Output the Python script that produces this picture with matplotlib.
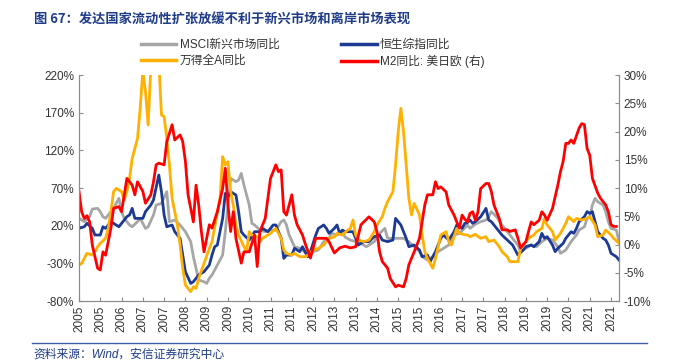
import matplotlib
matplotlib.use("Agg")
import matplotlib.pyplot as plt
from matplotlib.lines import Line2D

plt.rcParams['font.family'] = ['Liberation Sans', 'Noto Sans CJK SC', 'DejaVu Sans']

# x = months since 2005-01 (0 = Jan 2005)
msci_m = [0, 1, 2, 4, 5, 7, 8, 9, 10, 12, 13, 15, 16, 17, 19, 20, 22, 23, 25, 26, 28, 29, 31, 33, 34,
          36, 38, 40, 42, 43, 44, 45, 47, 48, 49, 50, 52, 54, 55, 56, 57, 59, 60, 61, 62, 64, 65, 66,
          68, 70, 72, 74, 76, 77, 78, 79, 81, 83, 84, 86, 88, 90, 92, 94, 95, 97, 99, 100, 102, 104,
          106, 108, 109, 111, 113, 115, 116, 118, 120, 122, 124, 126, 128, 129, 131, 133, 135, 137,
          139, 141, 143, 145, 146, 147, 149, 151, 153, 154, 155, 157, 159, 161, 163, 165, 166, 168,
          170, 172, 174, 176, 178, 180, 181, 183, 185, 187, 188, 190, 191, 192, 193, 194, 195, 197,
          198, 199, 200, 202, 203]
msci_v = [29.7, 27.5, 25.3, 31.9, 42.1, 43.0, 38.6, 31.9, 29.7, 38.6, 43.0, 56.3, 38.6, 29.7, 20.9,
          18.6, 25.3, 29.7, 16.4, 18.6, 34.2, 47.4, 49.6, 65.1, 25.3, 27.5, 20.9, 12.0, -1.2, -21.2,
          -36.6, -52.1, -54.4, -56.6, -49.9, -45.5, -32.2, -19.0, 12.0, 47.4, 82.8, 78.4, 80.6, 89.4,
          74.0, 47.4, 23.1, 20.9, 14.2, 12.0, 14.2, 14.2, 25.3, 27.5, 20.9, 7.6, -7.9, -10.1, -12.3,
          -19.0, -14.5, -12.3, -1.2, 3.2, 9.8, 7.6, 12.0, 5.0, 0.9, -1.2, -3.5, -7.9, -5.7, -1.2, 9.8,
          16.4, 3.2, 3.2, 3.2, 3.2, -1.2, -7.9, -14.5, -21.2, -25.6, -21.2, -14.5, -10.1, -5.7, 7.6,
          9.8, 17.0, 20.9, 16.4, 22.0, 25.3, 27.5, 31.9, 38.6, 31.9, 20.9, 12.0, 3.2, -5.7, -14.5,
          -10.1, -5.7, -7.9, -1.2, 3.2, 0.9, -7.9, -16.7, -12.3, -1.2, 7.6, 14.2, 18.6, 29.7, 31.9,
          47.4, 56.3, 51.8, 47.4, 38.6, 25.3, 16.4, 14.2, -1.2]

hsci_m = [0, 2, 3, 5, 6, 8, 9, 10, 12, 14, 15, 16, 18, 19, 20, 21, 22, 24, 25, 27, 28, 30, 31, 32, 33,
          35, 36, 38, 39, 40, 42, 43, 45, 47, 49, 50, 51, 52, 54, 55, 56, 57, 59, 60, 61, 62, 64, 65,
          66, 68, 69, 71, 73, 74, 76, 77, 78, 80, 81, 83, 84, 86, 87, 89, 90, 92, 93, 94, 96, 97, 98,
          99, 100, 101, 103, 105, 107, 109, 111, 113, 114, 116, 118, 119, 121, 123, 124, 126, 128,
          129, 131, 132, 134, 136, 137, 139, 141, 142, 144, 145, 146, 147, 148, 149, 151, 153, 154,
          155, 157, 159, 161, 163, 164, 165, 167, 168, 170, 171, 173, 174, 175, 176, 178, 179, 180,
          182, 183, 185, 186, 187, 188, 190, 191, 192, 193, 194, 195, 197, 198, 199, 200, 202, 203]
hsci_v = [16.4, 18.6, 23.1, 16.4, 7.6, 7.6, 18.6, 16.4, 25.3, 20.9, 18.6, 23.1, 31.9, 34.2, 43.0,
          29.7, 29.7, 29.7, 38.6, 47.4, 54.1, 87.2, 65.1, 34.2, 18.6, 20.9, 12.0, 3.2, -19.0, -41.1,
          -56.6, -54.4, -45.5, -41.1, -32.2, -19.0, -8.0, -5.7, 29.7, 62.9, 58.5, 65.1, 60.7, 38.6,
          12.0, 7.6, 0.9, 5.4, 12.0, 12.0, 16.4, 12.0, 20.9, 20.9, 3.2, -23.4, -19.0, -19.0, -10.1,
          -14.5, -7.9, -21.2, -14.5, 7.6, 16.4, 20.9, 16.4, 9.8, 16.4, 20.9, 9.8, 14.2, 12.0, 12.0,
          12.0, -5.7, -1.2, -1.2, 5.4, 7.6, 0.9, -1.2, 0.9, 29.7, 20.9, 3.2, -7.9, -5.7, -12.3, -21.2,
          -19.0, -27.8, -14.5, 3.2, 7.6, 0.9, 12.0, 20.9, 16.4, 23.0, 24.0, 27.5, 23.1, 25.3, 31.9,
          43.0, 27.5, 25.3, 16.4, 7.6, 0.9, -5.7, -12.3, -19.0, -12.3, -7.9, -5.7, -7.9, -1.2, 9.8,
          3.2, 5.4, -5.7, -14.5, -10.1, -3.5, 3.2, 12.0, 9.8, 16.4, 25.3, 31.9, 38.6, 36.4, 38.6, 25.3,
          12.0, 3.2, 0.9, -5.7, -16.7, -21.2, -25.6]

wind_m = [0, 1, 2, 3, 5, 6, 7, 8, 10, 11, 12, 13, 14, 16, 17, 18, 19, 20, 22, 23, 24, 25, 26, 27, 28,
          29, 30, 31, 32, 33, 34, 35, 37, 38, 39, 40, 42, 43, 44, 45, 47, 48, 50, 51, 53, 54, 55, 56,
          57, 58, 59, 60, 62, 63, 64, 65, 67, 68, 69, 70, 72, 74, 76, 77, 78, 80, 81, 83, 85, 86, 88,
          90, 92, 94, 96, 97, 99, 101, 102, 103, 104, 105, 107, 109, 111, 112, 114, 115, 116, 118,
          119, 120, 121, 122, 123, 124, 125, 126, 128, 129, 130, 131, 133, 134, 136, 138, 139, 140,
          142, 143, 145, 146, 147, 149, 151, 153, 154, 156, 158, 159, 161, 162, 164, 165, 166, 167,
          169, 171, 172, 174, 175, 176, 178, 179, 181, 183, 184, 186, 187, 189, 191, 192, 194, 195,
          197, 198, 200, 201, 203]
wind_v = [-32.2, -30.0, -23.4, -16.7, -19.0, -14.5, -7.9, -3.5, 3.2, 16.4, 38.6, 65.1, 69.5, 65.1,
          54.1, 65.1, 82.8, 109.4, 135.9, 175.8, 225.0, 197.9, 153.6, 230.0, 265.0, 260.0, 240.0,
          166.9, 164.7, 136.0, 100.5, 56.3, 20.9, -5.7, -36.6, -58.8, -67.6, -61.0, -63.2, -49.9,
          -30.0, -20.0, -1.0, 18.0, 56.0, 111.6, 100.5, 104.9, 65.1, 47.4, 20.9, 7.6, -7.9, -14.5,
          12.0, 7.6, 5.4, -1.2, 3.2, 5.4, 9.8, 16.4, 3.2, -12.3, -16.7, -19.0, -16.7, -21.2, -21.2,
          -19.0, -12.3, -10.1, -5.7, 3.2, 5.0, 9.8, 7.6, 14.2, 16.4, 27.5, 7.6, 0.9, -1.2, 0.9, 12.0,
          20.9, 31.9, 43.0, 51.8, 65.1, 100.5, 144.8, 175.8, 144.8, 100.5, 56.3, 34.2, 49.6, 34.2,
          7.6, -14.5, -23.4, -36.6, -23.4, 7.6, 12.0, -1.2, -5.7, 16.4, 9.8, 8.0, 7.6, 5.4, 8.5, 3.2,
          5.4, -1.2, 0.9, -7.9, -14.5, -21.2, -27.8, -27.8, -27.8, -10.1, -5.7, 3.2, 7.6, 12.0, 16.4,
          29.7, 20.9, 12.0, 0.9, 9.8, 23.1, 31.9, 25.3, 29.7, 27.5, 29.7, 31.9, 20.9, 5.4, 7.6, 14.2,
          7.6, 3.2, -3.5]

m2_m = [0, 1, 2, 3, 4, 5, 7, 8, 9, 10, 12, 13, 15, 16, 17, 18, 20, 21, 22, 24, 25, 27, 28, 29, 30,
        32, 33, 35, 36, 38, 39, 40, 41, 43, 44, 45, 46, 47, 49, 50, 52, 54, 55, 56, 57, 58, 59, 61,
        62, 64, 66, 67, 68, 70, 72, 74, 75, 76, 77, 78, 80, 81, 82, 84, 85, 87, 89, 91, 93, 94, 96,
        98, 100, 102, 104, 106, 109, 111, 112, 113, 114, 116, 117, 119, 120, 122, 123, 124, 126,
        128, 130, 131, 133, 134, 135, 136, 138, 139, 141, 142, 143, 144, 145, 146, 147, 148, 149,
        150, 151, 153, 154, 155, 156, 158, 159, 161, 162, 164, 165, 166, 168, 169, 170, 171, 173,
        174, 175, 176, 178, 180, 181, 182, 183, 184, 185, 186, 188, 189, 190, 191, 192, 193, 195,
        196, 198, 199, 200, 201, 202]
m2_v = [9.4, 5.8, 4.6, 5.1, 4.0, -0.1, -4.2, -4.5, -1.3, -1.9, 2.9, 6.4, 6.7, 5.8, 8.8, 11.7, 10.5,
        8.8, 11.1, 9.4, 7.3, 8.8, 11.1, 14.1, 14.4, 14.1, 18.2, 21.2, 18.5, 19.4, 18.2, 14.7, 8.8,
        4.0, 10.5, 7.0, 2.3, -1.3, 3.5, 2.9, 5.8, 9.9, 13.5, 7.0, 2.3, 5.8, 1.1, -3.3, -1.3, -1.3,
        1.7, -3.9, 2.3, 4.6, 11.7, 14.1, 12.9, 13.2, 5.8, 5.2, 8.8, 5.2, 3.5, 1.7, 0.2, -2.4, 1.1,
        1.1, 1.1, 0.5, -1.5, -0.6, -0.3, -0.6, -0.4, 3.5, 4.9, 4.0, 2.3, -1.3, -3.0, -4.2, -6.0,
        -7.5, -7.2, -7.5, -6.0, -3.6, -1.3, 1.1, 7.0, 8.8, 8.8, 11.1, 9.9, 10.2, 9.3, 7.0, 5.2, 4.0,
        2.9, 5.2, 4.5, 4.0, 5.5, 5.8, 4.3, 5.8, 9.9, 10.8, 10.8, 9.4, 7.0, 4.6, 2.6, 2.6, 2.3, 2.6,
        1.1, -0.6, 0.5, 2.3, 4.0, 3.5, 4.3, 5.8, 5.2, 4.3, 6.4, 10.5, 12.9, 14.7, 17.9, 17.9, 18.5,
        17.9, 20.6, 21.4, 21.2, 17.0, 15.8, 11.7, 9.1, 8.2, 7.0, 5.8, 3.5, 3.2, 3.2]

tick_m = list(range(0, 201, 8))
tick_lbl = [str(2005 + m // 12) for m in tick_m]

navy = '#1F3C88'
fig = plt.figure(figsize=(6.74, 3.62), dpi=100)
ax = fig.add_axes([0.1172, 0.1685, 0.8012, 0.6243])
ax2 = ax.twinx()

ax.plot(msci_m, msci_v, color='#A6A6A6', lw=2.0, label='MSCI新兴市场同比')
ax.plot(hsci_m, hsci_v, color='#1C3A94', lw=2.0, label='恒生综指同比')
ax.plot(wind_m, wind_v, color='#FFB000', lw=2.0, label='万得全A同比')
ax2.plot(m2_m, m2_v, color='#FF0000', lw=2.0, label='M2同比: 美日欧 (右)')

ax.set_xlim(0, 203)
ax.set_ylim(-80, 220)
ax2.set_ylim(-10, 30)
ax.set_yticks(range(-80, 221, 50))
ax.set_yticklabels([f'{v}%' for v in range(-80, 221, 50)])
ax2.set_yticks(range(-10, 31, 5))
ax2.set_yticklabels([f'{v}%' for v in range(-10, 31, 5)])
ax.set_xticks(tick_m)
ax.set_xticklabels(tick_lbl, rotation=90)

for a in (ax, ax2):
    a.spines['top'].set_visible(False)
    for s in ('left', 'right', 'bottom'):
        a.spines[s].set_color('#8C8C8C')
    a.tick_params(direction='in', length=3, color='#8C8C8C', labelsize=8.5, labelcolor='#333333')
ax.tick_params(axis='x', pad=3)

h = [Line2D([], [], color=c, lw=2.5) for c in ('#A6A6A6', '#FFB000', '#1C3A94', '#FF0000')]
lbl = ['MSCI新兴市场同比', '万得全A同比', '恒生综指同比', 'M2同比: 美日欧 (右)']
fig.legend(h, lbl, ncol=2, loc='upper left', bbox_to_anchor=(0.202, 0.905), frameon=False,
           fontsize=8.5, handlelength=3.0, handletextpad=0.3, columnspacing=5.2,
           labelspacing=0.3, borderaxespad=0, labelcolor='#333333')

fig.text(0.05, 0.945, '图 67：发达国家流动性扩张放缓不利于新兴市场和离岸市场表现', fontsize=9.5,
         fontweight='bold', color=navy, va='center', family=['Noto Sans CJK SC', 'DejaVu Sans'])
fig.add_artist(Line2D([0.047, 0.96], [0.052, 0.052], color='#3F5FA8', lw=1.0))
fig.text(0.05, 0.02, '资料来源：Wind，安信证券研究中心', fontsize=8.5, style='italic', color=navy,
         va='center')

fig.savefig('out.png', dpi=100)
